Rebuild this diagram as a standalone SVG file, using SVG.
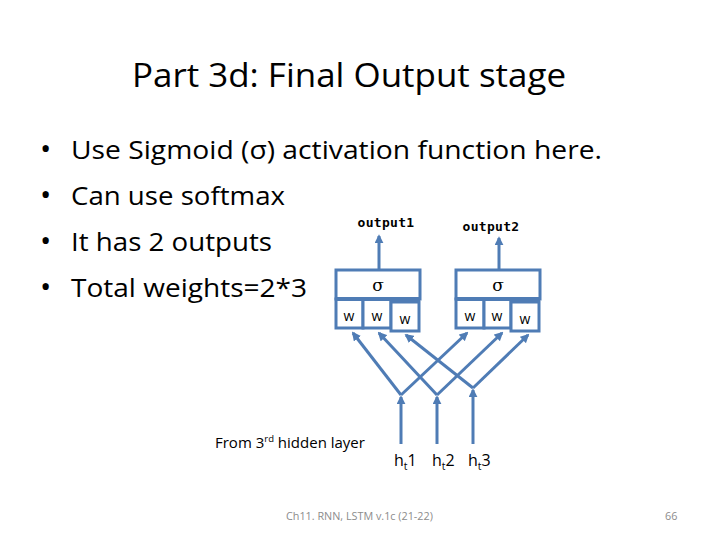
<svg xmlns="http://www.w3.org/2000/svg" width="720" height="540" viewBox="0 0 720 540">
<style>
.t{font-family:"Open Sans",Lato,sans-serif;fill:#000}
.m{font-family:"DejaVu Sans Mono","Liberation Mono",monospace;fill:#000}
.box{fill:#fff;stroke:#4F7CB5;stroke-width:3}
.ln{fill:none;stroke:#4F7CB5;stroke-width:3}
</style>
<defs>
<marker id="ah" viewBox="0 0 10 10" refX="8" refY="5" markerWidth="3" markerHeight="3" orient="auto" markerUnits="strokeWidth">
<path d="M0,0 L10,5 L0,10 Z" fill="#4F7CB5"/>
</marker>
</defs>
<rect width="720" height="540" fill="#fff"/>
<g id="title"><text class="t" x="349" y="87" font-size="33" text-anchor="middle" textLength="434" lengthAdjust="spacingAndGlyphs">Part 3d: Final Output stage</text></g>
<g id="bullets" class="t" font-size="26">
<text x="40" y="159" font-size="30">•</text><text x="71" y="159" textLength="531" lengthAdjust="spacingAndGlyphs">Use Sigmoid (σ) activation function here.</text>
<text x="40" y="205" font-size="30">•</text><text x="71" y="205" textLength="214" lengthAdjust="spacingAndGlyphs">Can use softmax</text>
<text x="40" y="251" font-size="30">•</text><text x="71" y="251" textLength="201" lengthAdjust="spacingAndGlyphs">It has 2 outputs</text>
<text x="40" y="297" font-size="30">•</text><text x="71" y="297" textLength="236" lengthAdjust="spacingAndGlyphs">Total weights=2*3</text>
</g>
<g id="connectors">
<line class="ln" x1="379" y1="270" x2="379" y2="236" marker-end="url(#ah)"/>
<line class="ln" x1="499" y1="270" x2="499" y2="238" marker-end="url(#ah)"/>
<line class="ln" x1="401" y1="444" x2="401" y2="397" marker-end="url(#ah)"/>
<line class="ln" x1="437" y1="444" x2="437" y2="397" marker-end="url(#ah)"/>
<line class="ln" x1="473" y1="444" x2="473" y2="390" marker-end="url(#ah)"/>
<line class="ln" x1="401" y1="395" x2="353" y2="333" marker-end="url(#ah)"/>
<line class="ln" x1="401" y1="395" x2="467" y2="333" marker-end="url(#ah)"/>
<line class="ln" x1="437" y1="395" x2="379" y2="333" marker-end="url(#ah)"/>
<line class="ln" x1="437" y1="395" x2="502" y2="333" marker-end="url(#ah)"/>
<line class="ln" x1="473" y1="388" x2="406" y2="335" marker-end="url(#ah)"/>
<line class="ln" x1="473" y1="388" x2="528" y2="335" marker-end="url(#ah)"/>
</g>
<g id="node1">
<rect class="box" x="336" y="270" width="84" height="29"/>
<rect class="box" x="336" y="299" width="27" height="29"/>
<rect class="box" x="363" y="299" width="28" height="29"/>
<rect class="box" x="391" y="302" width="28" height="29"/>
<line x1="336" y1="299" x2="420" y2="299" stroke="#4F7CB5" stroke-width="4"/>
<text x="378" y="291" font-family="'DejaVu Serif',serif" font-size="17" text-anchor="middle">σ</text>
<text class="t" x="349" y="321" font-size="14" text-anchor="middle">w</text>
<text class="t" x="377" y="321" font-size="14" text-anchor="middle">w</text>
<text class="t" x="405" y="324" font-size="14" text-anchor="middle">w</text>
</g>
<g id="node2">
<rect class="box" x="456" y="270" width="84" height="29"/>
<rect class="box" x="456" y="299" width="28" height="29"/>
<rect class="box" x="484" y="299" width="27" height="29"/>
<rect class="box" x="511" y="302" width="28" height="29"/>
<line x1="456" y1="299" x2="540" y2="299" stroke="#4F7CB5" stroke-width="4"/>
<text x="498" y="291" font-family="'DejaVu Serif',serif" font-size="17" text-anchor="middle">σ</text>
<text class="t" x="470" y="321" font-size="14" text-anchor="middle">w</text>
<text class="t" x="497" y="321" font-size="14" text-anchor="middle">w</text>
<text class="t" x="525" y="324" font-size="14" text-anchor="middle">w</text>
</g>
<g id="labels">
<text class="m" x="386" y="227" font-size="13" text-anchor="middle" font-weight="bold" letter-spacing="0.3">output1</text>
<text class="m" x="491" y="231" font-size="13" text-anchor="middle" font-weight="bold" letter-spacing="0.3">output2</text>
<text class="t" x="215" y="448" font-size="15">From 3<tspan font-size="9.5" dy="-6">rd</tspan><tspan dy="6"> hidden layer</tspan></text>
<text class="t" x="394" y="466" font-size="16">h<tspan font-size="10.5" dy="4">t</tspan><tspan dy="-4">1</tspan></text>
<text class="t" x="432" y="466" font-size="16">h<tspan font-size="10.5" dy="4">t</tspan><tspan dy="-4">2</tspan></text>
<text class="t" x="468" y="466" font-size="16">h<tspan font-size="10.5" dy="4">t</tspan><tspan dy="-4">3</tspan></text>
</g>
<g id="footer" class="t" font-size="10.8" style="fill:#8c8c8c">
<text x="286" y="520">Ch11. RNN, LSTM  v.1c (21-22)</text>
<text x="665" y="520">66</text>
</g>
</svg>
